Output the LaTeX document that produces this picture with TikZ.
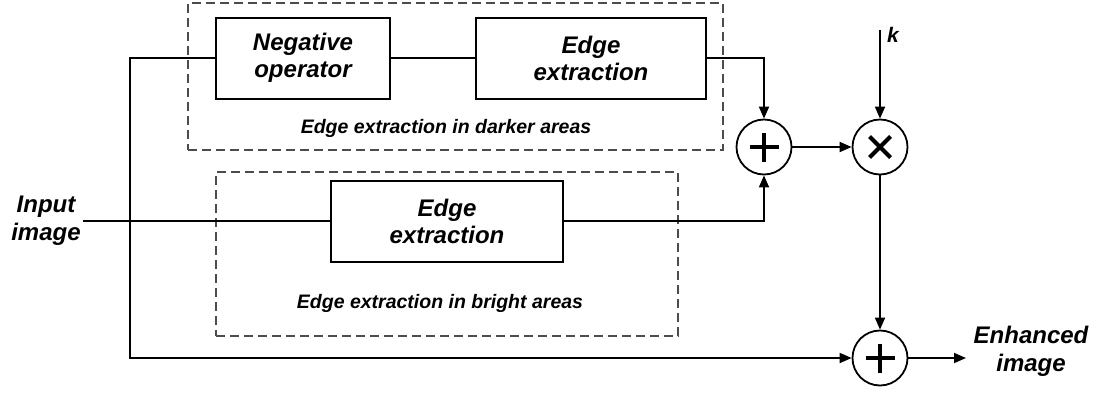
\documentclass[tikz,border=0pt]{standalone}
\usepackage{fontspec}
\setmainfont{Liberation Sans}
\usetikzlibrary{arrows.meta}

\begin{document}
\begin{tikzpicture}[x=1pt,y=-1pt,
  blk/.style={draw, line width=2pt, minimum height=81pt, inner sep=0pt, align=center,
    font=\fontsize{24}{27}\selectfont\bfseries\itshape},
  frame/.style={draw=black!70, line width=1.3pt, dash pattern=on 9pt off 5pt, inner sep=0pt},
  sumnode/.style={circle, draw, line width=1.8pt, minimum size=55pt, inner sep=0pt},
  wire/.style={line width=1.8pt},
  arr/.style={wire, -{Triangle[length=12pt,width=10pt]}},
  sign/.style={line width=4pt},
  lbl/.style={font=\fontsize{19.5}{22}\selectfont\bfseries\itshape},
  io/.style={align=center, font=\fontsize{24}{28}\selectfont\bfseries\itshape}
]
\useasboundingbox (0,0) rectangle (1098,394);

% grouping frames
\node[frame, minimum width=535pt, minimum height=147pt] (darkframe) at (455.5,76.5) {};
\node[frame, minimum width=462pt, minimum height=164pt] (brightframe) at (447,254) {};
\node[lbl] (darklbl) at (446,128) {Edge extraction in darker areas};
\node[lbl] (brightlbl) at (440,303) {Edge extraction in bright areas};

% processing blocks
\node[blk, minimum width=174pt] (neg) at (303,58) {Negative\\operator};
\node[blk, minimum width=230pt] (edgeD) at (591,58) {Edge\\extraction};
\node[blk, minimum width=232pt] (edgeB) at (447,221) {Edge\\extraction};

% summing and product junctions
\node[sumnode] (sumA) at (764,147) {};
\node[sumnode] (prod) at (880,147) {};
\node[sumnode] (sumB) at (880,358) {};
\draw[sign] ([xshift=-14.5pt]sumA.center) -- ([xshift=14.5pt]sumA.center)
            ([yshift=-14.5pt]sumA.center) -- ([yshift=14.5pt]sumA.center);
\draw[sign] ([xshift=-14.5pt]sumB.center) -- ([xshift=14.5pt]sumB.center)
            ([yshift=-14.5pt]sumB.center) -- ([yshift=14.5pt]sumB.center);
\draw[sign] ([shift={(-10.5pt,-10.5pt)}]prod.center) -- ([shift={(10.5pt,10.5pt)}]prod.center)
            ([shift={(-10.5pt,10.5pt)}]prod.center) -- ([shift={(10.5pt,-10.5pt)}]prod.center);

% inputs and outputs
\node[io] (inlbl) at (46,221) {Input\\image};
\node[io] (outlbl) at (1031,351) {Enhanced\\image};
\node[io, font=\fontsize{21}{24}\selectfont\bfseries\itshape] (klbl) at (893,35) {k};
\coordinate (in) at (83,221);
\coordinate (split) at (130,221);
\coordinate (kin) at (880,30);
\coordinate (out) at (966,358);

% connections
\draw[wire] (in) -- (edgeB.west);
\draw[arr] (edgeB.east) -| (sumA.south);
\draw[wire] (split) |- (neg.west);
\draw[wire] (neg.east) -- (edgeD.west);
\draw[arr] (edgeD.east) -| (sumA.north);
\draw[arr] (split) |- (sumB.west);
\draw[arr] (sumA.east) -- (prod.west);
\draw[arr] (kin) -- (prod.north);
\draw[arr] (prod.south) -- (sumB.north);
\draw[arr] (sumB.east) -- (out);
\end{tikzpicture}
\end{document}
